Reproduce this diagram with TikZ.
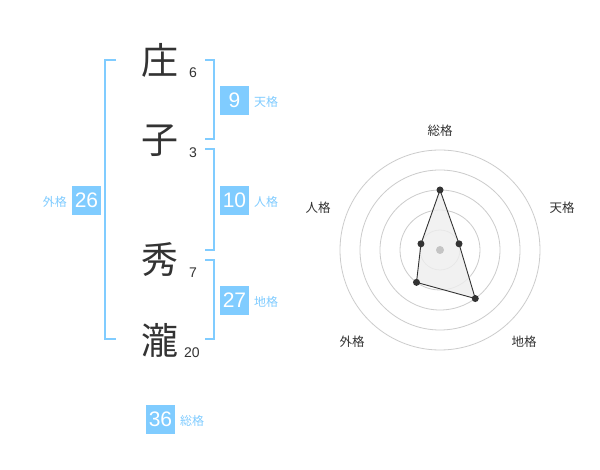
\documentclass[tikz,border=0pt]{standalone}
\usepackage{fontspec}
\setmainfont{Liberation Sans}
\newfontfamily\jp{Noto Sans CJK JP}
\definecolor{skyb}{HTML}{80CCFF}
\definecolor{ink}{HTML}{333333}
\definecolor{ring}{HTML}{CCCCCC}
\definecolor{areafill}{HTML}{EEEEEE}
\begin{document}
\begin{tikzpicture}[x=1pt,y=1pt,
  kanji/.style={font=\jp\fontsize{37}{37}\selectfont, text=ink, inner sep=0},
  strokes/.style={font=\fontsize{14}{14}\selectfont, text=ink, inner sep=0},
  valbox/.style={fill=skyb, text=white, minimum size=29pt, inner sep=0, font=\fontsize{21}{21}\selectfont},
  bluelab/.style={font=\jp\fontsize{12}{12}\selectfont, text=skyb, inner sep=0},
  bracketline/.style={draw=skyb, line width=2pt},
  ringline/.style={draw=ring, line width=0.8pt},
  radlab/.style={font=\jp\fontsize{12.5}{12.5}\selectfont, text=ink, inner sep=0},
  dot/.style={circle, fill=ink, inner sep=0, minimum size=7pt}]
\useasboundingbox (0,0) rectangle (600,-470);
\fill[white] (0,0) rectangle (600,-470);
% brackets
\draw[bracketline] (116,-60) -- (105,-60) -- (105,-339) -- (116,-339);
\draw[bracketline] (205,-60) -- (214,-60) -- (214,-139) -- (205,-139);
\draw[bracketline] (205,-149) -- (214,-149) -- (214,-250) -- (205,-250);
\draw[bracketline] (205,-260) -- (214,-260) -- (214,-339) -- (205,-339);
% name characters
\node[kanji] (k1) at (160,-60) {庄};
\node[kanji] (k2) at (160,-141) {子};
\node[kanji] (k3) at (160,-260) {秀};
\node[kanji] (k4) at (160,-340) {瀧};
\node[strokes] (s1) at (193,-73) {6};
\node[strokes] (s2) at (193,-153) {3};
\node[strokes] (s3) at (193,-273) {7};
\node[strokes] (s4) at (192,-353) {20};
% value boxes
\node[valbox] (ten) at (234.5,-100.5) {9};
\node[valbox] (jin) at (234.5,-200.5) {10};
\node[valbox] (gai) at (86.5,-200.5) {26};
\node[valbox] (chi) at (234.5,-300.5) {27};
\node[valbox] (sou) at (160.5,-419) {36};
\node[bluelab, anchor=west] (tenl) at (254,-102) {天格};
\node[bluelab, anchor=west] (jinl) at (254,-202) {人格};
\node[bluelab, anchor=west] (chil) at (254,-302) {地格};
\node[bluelab, anchor=west] (soul) at (180,-421) {総格};
\node[bluelab, anchor=east] (gail) at (67,-202) {外格};
% radar
\begin{scope}[shift={(440,-250)}]
  \foreach \r in {20,40,60,80,100} \draw[ringline] (0,0) circle (\r);
  \coordinate (pS) at (90:60);
  \coordinate (pT) at (18:20);
  \coordinate (pC) at (-54:60);
  \coordinate (pG) at (-126:40);
  \coordinate (pJ) at (162:20);
  \filldraw[fill=areafill, fill opacity=0.8, draw=ink, line width=0.9pt] (pS) -- (pT) -- (pC) -- (pG) -- (pJ) -- cycle;
  \fill[ring!90!gray] (0,0) circle (4);
  \foreach \p in {pS,pT,pC,pG,pJ} \node[dot] at (\p) {};
\end{scope}
\node[radlab] (rS) at (440,-131) {総格};
\node[radlab] (rT) at (562,-208) {天格};
\node[radlab] (rJ) at (318,-208) {人格};
\node[radlab] (rG) at (352,-342) {外格};
\node[radlab] (rC) at (524,-342) {地格};
\end{tikzpicture}
\end{document}
